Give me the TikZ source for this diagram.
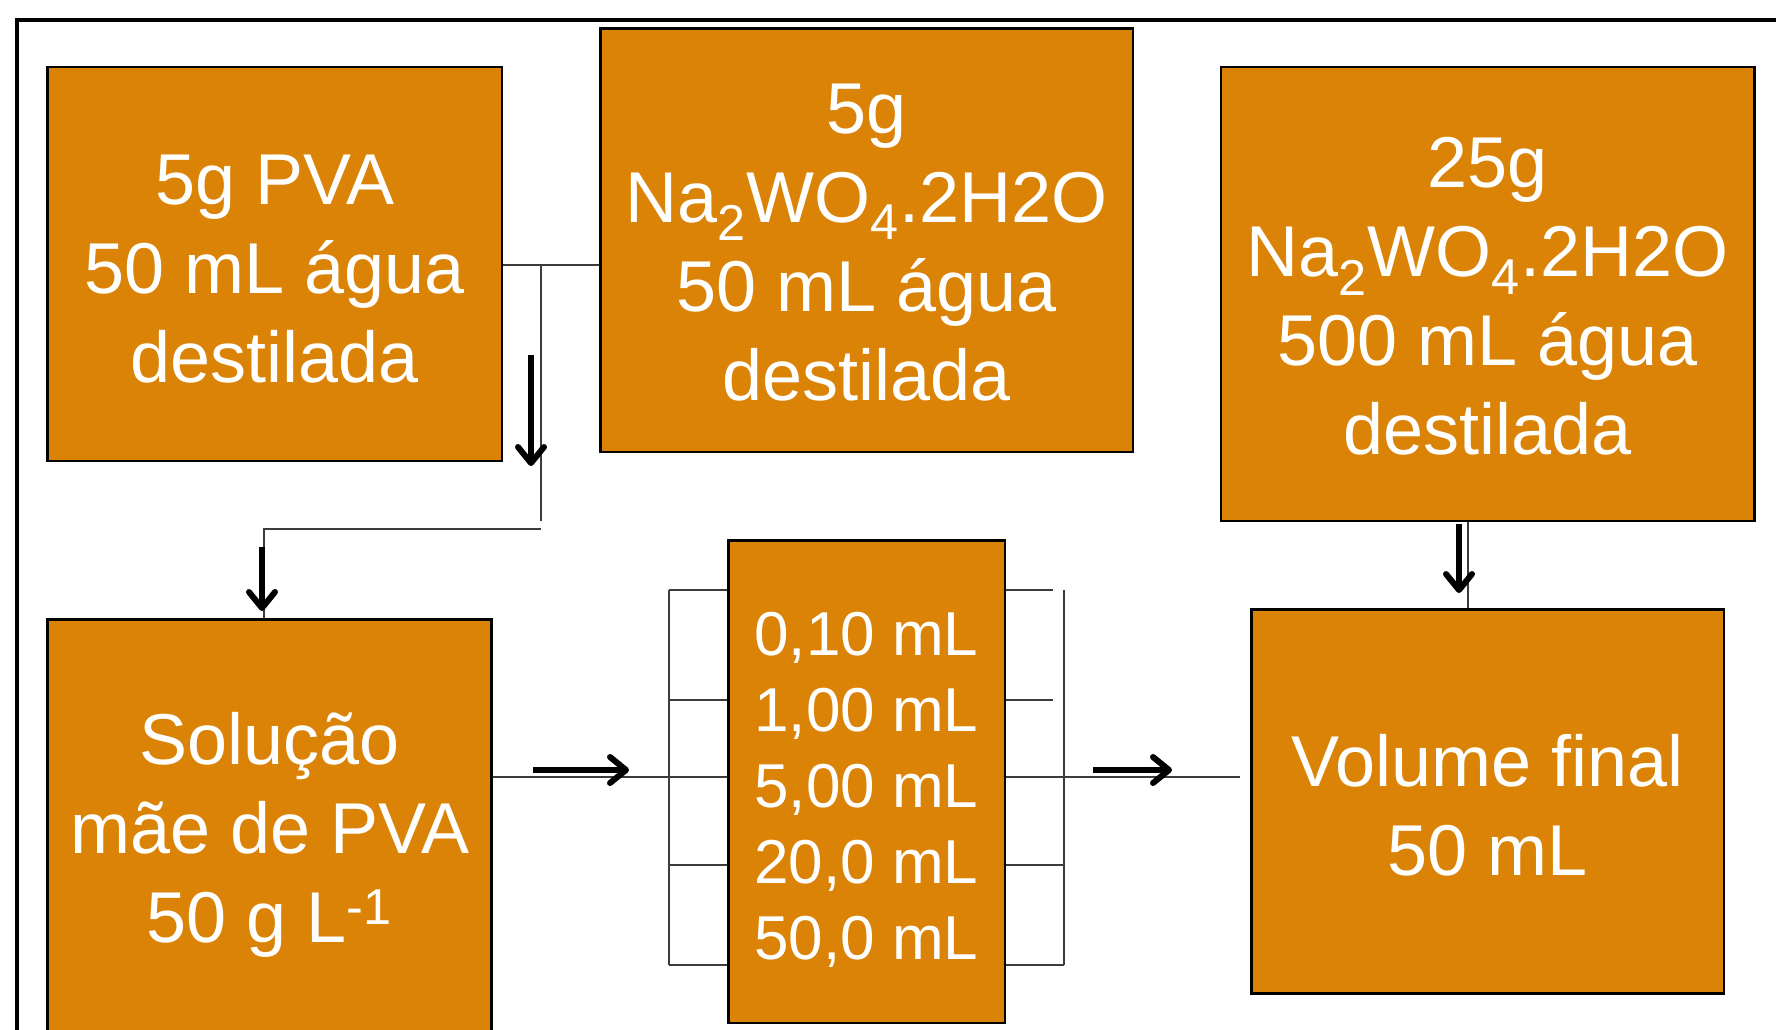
\documentclass[tikz,border=0pt]{standalone}
\usepackage{fontspec}
\setmainfont{Liberation Sans}
\usetikzlibrary{arrows.meta}
\definecolor{boxor}{RGB}{218,131,7}
\definecolor{conn}{RGB}{60,60,60}
\begin{document}
\begin{tikzpicture}[x=0.5pt,y=-0.5pt,
  box/.style={draw=black, line width=1.2pt, fill=boxor},
  txt/.style={text=white, align=center, inner sep=0pt, font=\fontsize{36}{44.5}\selectfont},
  smalltxt/.style={text=white, align=center, inner sep=0pt, font=\fontsize{31}{38}\selectfont},
  dims/.style 2 args={minimum width=#1*0.5pt, minimum height=#2*0.5pt},
  thinline/.style={draw=conn, line width=0.9pt},
  fatarrow/.style={draw=black, line width=3pt, -{Straight Barb[length=8pt,width=13pt,round]}}]
\useasboundingbox (0,0) rectangle (1776,1029);
\clip (0,0) rectangle (1776,1029);
% frame
\draw[line width=2pt] (17,1100) -- (17,20) -- (1800,20);
% boxes
\node[box, dims={454.2}{394.2}] (A) at (274.7,263.9) {};
\node[box, dims={532.4}{423.6}] (B) at (866.5,240.1) {};
\node[box, dims={533.5}{454.2}] (C) at (1487.9,293.9) {};
\node[box, dims={444}{416.4}] (D) at (269.6,827.8) {};
\node[box, dims={276.4}{482.5}] (E) at (866.5,781.6) {};
\node[box, dims={472.4}{384}] (F) at (1487.8,801.4) {};
% texts
\node[txt] (At) at ([yshift=-2.5pt]A.center) {5g PVA\\50 mL água\\destilada};
\node[txt] (Bt) at ([yshift=-1.1pt]B.center) {5g\\Na\textsubscript{2}WO\textsubscript{4}.2H2O\\50 mL água\\destilada};
\node[txt] (Ct) at ([yshift=-1.4pt]C.center) {25g\\Na\textsubscript{2}WO\textsubscript{4}.2H2O\\500 mL água\\destilada};
\node[txt] (Dt) at ([yshift=-3.4pt]D.center) {Solução\\mãe de PVA\\50 g L\textsuperscript{-1}};
\node[smalltxt] (Et) at ([yshift=-4pt]E.center) {0,10 mL\\1,00 mL\\5,00 mL\\20,0 mL\\50,0 mL};
\node[txt] (Ft) at ([yshift=-1.7pt]F.center) {Volume final\\50 mL};
% junction coordinates
\coordinate (j1) at (541,265);
\coordinate (j2) at (541,521);
\coordinate (k1) at (541,529);
\coordinate (k2) at (264,529);
\coordinate (lb) at (669,777);
\coordinate (rb) at (1063.6,777);
\coordinate (fin) at (1240,777);
% thin connectors top-left
\draw[thinline] (A.east |- j1) -- (B.west |- j1);
\draw[thinline] (j1) -- (j2);
\draw[thinline] (k1) -- (k2) -- (k2 |- D.north);
% bracket left
\draw[thinline] (D.east |- lb) -- (lb);
\draw[thinline] (669,590) -- (669,965);
\foreach \yy in {590,700,777,865,965} {\draw[thinline] (669,\yy) -- (E.west |- 0,\yy);}
% bracket right
\draw[thinline] (1063.6,590) -- (1063.6,965);
\foreach \yy in {590,700} {\draw[thinline] (E.east |- 0,\yy) -- (1053,\yy);}
\foreach \yy in {865,965} {\draw[thinline] (E.east |- 0,\yy) -- (1063.6,\yy);}
\draw[thinline] (E.east |- rb) -- (fin);
% C to F
\draw[thinline] (C.south -| 1468,0) -- (F.north -| 1468,0);
% thick arrows
\coordinate (a1s) at (531,355); \coordinate (a1e) at (531,466);
\coordinate (a2s) at (262,547); \coordinate (a2e) at (262,611);
\coordinate (a3s) at (533,770); \coordinate (a3e) at (629,770);
\coordinate (a4s) at (1093,770); \coordinate (a4e) at (1172,770);
\coordinate (a5s) at (1459,524); \coordinate (a5e) at (1459,593);
\draw[fatarrow] (a1s) -- (a1e);
\draw[fatarrow] (a2s) -- (a2e);
\draw[fatarrow] (a3s) -- (a3e);
\draw[fatarrow] (a4s) -- (a4e);
\draw[fatarrow] (a5s) -- (a5e);
\end{tikzpicture}
\end{document}
